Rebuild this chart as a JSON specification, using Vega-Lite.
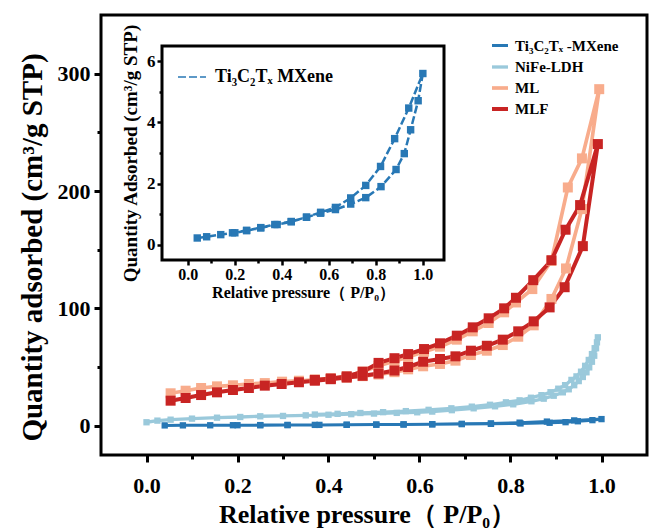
{
  "$schema": "https://vega.github.io/schema/vega-lite/v6.json",
  "width": 546,
  "height": 440,
  "autosize": "none",
  "padding": {"left": 101, "top": 15, "right": 4, "bottom": 75},
  "background": "white",
  "config": {
    "font": "Liberation Serif",
    "view": {"stroke": "black", "strokeWidth": 3},
    "axis": {
      "labelFont": "Liberation Serif",
      "titleFont": "Liberation Serif",
      "labelFontWeight": "bold",
      "titleFontWeight": "bold",
      "labelColor": "black",
      "titleColor": "black",
      "tickColor": "black",
      "domainColor": "black",
      "grid": false
    },
    "legend": {
      "labelFont": "Liberation Serif",
      "labelFontWeight": "bold",
      "labelColor": "black"
    }
  },
  "datasets": {
    "iso": [
      {"s": "Ti₃C₂Tₓ -MXene", "i": 1, "p": 0.04, "q": 0.22},
      {"s": "Ti₃C₂Tₓ -MXene", "i": 2, "p": 0.08, "q": 0.26},
      {"s": "Ti₃C₂Tₓ -MXene", "i": 3, "p": 0.14, "q": 0.33},
      {"s": "Ti₃C₂Tₓ -MXene", "i": 4, "p": 0.19, "q": 0.39},
      {"s": "Ti₃C₂Tₓ -MXene", "i": 5, "p": 0.25, "q": 0.47},
      {"s": "Ti₃C₂Tₓ -MXene", "i": 6, "p": 0.31, "q": 0.56},
      {"s": "Ti₃C₂Tₓ -MXene", "i": 7, "p": 0.37, "q": 0.66},
      {"s": "Ti₃C₂Tₓ -MXene", "i": 8, "p": 0.44, "q": 0.76},
      {"s": "Ti₃C₂Tₓ -MXene", "i": 9, "p": 0.505, "q": 0.9},
      {"s": "Ti₃C₂Tₓ -MXene", "i": 10, "p": 0.565, "q": 1.03},
      {"s": "Ti₃C₂Tₓ -MXene", "i": 11, "p": 0.628, "q": 1.15},
      {"s": "Ti₃C₂Tₓ -MXene", "i": 12, "p": 0.693, "q": 1.33},
      {"s": "Ti₃C₂Tₓ -MXene", "i": 13, "p": 0.757, "q": 1.54},
      {"s": "Ti₃C₂Tₓ -MXene", "i": 14, "p": 0.822, "q": 1.9},
      {"s": "Ti₃C₂Tₓ -MXene", "i": 15, "p": 0.886, "q": 2.46},
      {"s": "Ti₃C₂Tₓ -MXene", "i": 16, "p": 0.921, "q": 2.98},
      {"s": "Ti₃C₂Tₓ -MXene", "i": 17, "p": 0.948, "q": 3.76},
      {"s": "Ti₃C₂Tₓ -MXene", "i": 18, "p": 0.98, "q": 4.71},
      {"s": "Ti₃C₂Tₓ -MXene", "i": 19, "p": 1.0, "q": 5.6},
      {"s": "Ti₃C₂Tₓ -MXene", "i": 20, "p": 0.94, "q": 4.47},
      {"s": "Ti₃C₂Tₓ -MXene", "i": 21, "p": 0.88, "q": 3.47},
      {"s": "Ti₃C₂Tₓ -MXene", "i": 22, "p": 0.82, "q": 2.56},
      {"s": "Ti₃C₂Tₓ -MXene", "i": 23, "p": 0.757, "q": 1.94},
      {"s": "Ti₃C₂Tₓ -MXene", "i": 24, "p": 0.693, "q": 1.53},
      {"s": "Ti₃C₂Tₓ -MXene", "i": 25, "p": 0.628, "q": 1.22},
      {"s": "Ti₃C₂Tₓ -MXene", "i": 26, "p": 0.565, "q": 1.06},
      {"s": "Ti₃C₂Tₓ -MXene", "i": 27, "p": 0.505, "q": 0.9},
      {"s": "Ti₃C₂Tₓ -MXene", "i": 28, "p": 0.44, "q": 0.75},
      {"s": "Ti₃C₂Tₓ -MXene", "i": 29, "p": 0.38, "q": 0.66},
      {"s": "Ti₃C₂Tₓ -MXene", "i": 30, "p": 0.31, "q": 0.55},
      {"s": "Ti₃C₂Tₓ -MXene", "i": 31, "p": 0.25, "q": 0.46},
      {"s": "Ti₃C₂Tₓ -MXene", "i": 32, "p": 0.2, "q": 0.39},

      {"s": "NiFe-LDH", "i": 1, "p": 0.0, "q": 2.9},
      {"s": "NiFe-LDH", "i": 2, "p": 0.024, "q": 4.3},
      {"s": "NiFe-LDH", "i": 3, "p": 0.053, "q": 5.1},
      {"s": "NiFe-LDH", "i": 4, "p": 0.1, "q": 6.0},
      {"s": "NiFe-LDH", "i": 5, "p": 0.155, "q": 6.8},
      {"s": "NiFe-LDH", "i": 6, "p": 0.206, "q": 7.4},
      {"s": "NiFe-LDH", "i": 7, "p": 0.25, "q": 8.0},
      {"s": "NiFe-LDH", "i": 8, "p": 0.3, "q": 8.3},
      {"s": "NiFe-LDH", "i": 9, "p": 0.35, "q": 8.8},
      {"s": "NiFe-LDH", "i": 10, "p": 0.4, "q": 9.3},
      {"s": "NiFe-LDH", "i": 11, "p": 0.45, "q": 9.8},
      {"s": "NiFe-LDH", "i": 12, "p": 0.5, "q": 10.3},
      {"s": "NiFe-LDH", "i": 13, "p": 0.55, "q": 10.9},
      {"s": "NiFe-LDH", "i": 14, "p": 0.595, "q": 11.4},
      {"s": "NiFe-LDH", "i": 15, "p": 0.628, "q": 12.0},
      {"s": "NiFe-LDH", "i": 16, "p": 0.671, "q": 13.2},
      {"s": "NiFe-LDH", "i": 17, "p": 0.719, "q": 14.8},
      {"s": "NiFe-LDH", "i": 18, "p": 0.766, "q": 16.5},
      {"s": "NiFe-LDH", "i": 19, "p": 0.806, "q": 18.2},
      {"s": "NiFe-LDH", "i": 20, "p": 0.846, "q": 20.8},
      {"s": "NiFe-LDH", "i": 21, "p": 0.873, "q": 23.0},
      {"s": "NiFe-LDH", "i": 22, "p": 0.895, "q": 25.5},
      {"s": "NiFe-LDH", "i": 23, "p": 0.915, "q": 28.4},
      {"s": "NiFe-LDH", "i": 24, "p": 0.928, "q": 31.0},
      {"s": "NiFe-LDH", "i": 25, "p": 0.94, "q": 34.5},
      {"s": "NiFe-LDH", "i": 26, "p": 0.95, "q": 38.0},
      {"s": "NiFe-LDH", "i": 27, "p": 0.959, "q": 41.5},
      {"s": "NiFe-LDH", "i": 28, "p": 0.967, "q": 45.5},
      {"s": "NiFe-LDH", "i": 29, "p": 0.973, "q": 49.7},
      {"s": "NiFe-LDH", "i": 30, "p": 0.979, "q": 54.5},
      {"s": "NiFe-LDH", "i": 31, "p": 0.984, "q": 59.6},
      {"s": "NiFe-LDH", "i": 32, "p": 0.988, "q": 66.0},
      {"s": "NiFe-LDH", "i": 33, "p": 0.992, "q": 75.3},
      {"s": "NiFe-LDH", "i": 34, "p": 0.99, "q": 71.0},
      {"s": "NiFe-LDH", "i": 35, "p": 0.985, "q": 66.0},
      {"s": "NiFe-LDH", "i": 36, "p": 0.979, "q": 61.0},
      {"s": "NiFe-LDH", "i": 37, "p": 0.972, "q": 56.0},
      {"s": "NiFe-LDH", "i": 38, "p": 0.964, "q": 51.0},
      {"s": "NiFe-LDH", "i": 39, "p": 0.955, "q": 46.0},
      {"s": "NiFe-LDH", "i": 40, "p": 0.945, "q": 42.0},
      {"s": "NiFe-LDH", "i": 41, "p": 0.934, "q": 39.0},
      {"s": "NiFe-LDH", "i": 42, "p": 0.92, "q": 34.5},
      {"s": "NiFe-LDH", "i": 43, "p": 0.905, "q": 31.5},
      {"s": "NiFe-LDH", "i": 44, "p": 0.888, "q": 28.5},
      {"s": "NiFe-LDH", "i": 45, "p": 0.868, "q": 26.0},
      {"s": "NiFe-LDH", "i": 46, "p": 0.845, "q": 23.8},
      {"s": "NiFe-LDH", "i": 47, "p": 0.82, "q": 21.6},
      {"s": "NiFe-LDH", "i": 48, "p": 0.79, "q": 19.9},
      {"s": "NiFe-LDH", "i": 49, "p": 0.755, "q": 17.8},
      {"s": "NiFe-LDH", "i": 50, "p": 0.715, "q": 16.2},
      {"s": "NiFe-LDH", "i": 51, "p": 0.67, "q": 14.8},
      {"s": "NiFe-LDH", "i": 52, "p": 0.62, "q": 13.5},
      {"s": "NiFe-LDH", "i": 53, "p": 0.57, "q": 12.4},
      {"s": "NiFe-LDH", "i": 54, "p": 0.52, "q": 11.5},
      {"s": "NiFe-LDH", "i": 55, "p": 0.47, "q": 10.8},
      {"s": "NiFe-LDH", "i": 56, "p": 0.42, "q": 10.1},
      {"s": "NiFe-LDH", "i": 57, "p": 0.37, "q": 9.5},

      {"s": "ML", "i": 1, "p": 0.053, "q": 27.6},
      {"s": "ML", "i": 2, "p": 0.086, "q": 29.8},
      {"s": "ML", "i": 3, "p": 0.12, "q": 32.1},
      {"s": "ML", "i": 4, "p": 0.155, "q": 33.5},
      {"s": "ML", "i": 5, "p": 0.19, "q": 34.4},
      {"s": "ML", "i": 6, "p": 0.225, "q": 35.5},
      {"s": "ML", "i": 7, "p": 0.26, "q": 36.3},
      {"s": "ML", "i": 8, "p": 0.298, "q": 37.5},
      {"s": "ML", "i": 9, "p": 0.335, "q": 38.3},
      {"s": "ML", "i": 10, "p": 0.37, "q": 39.1},
      {"s": "ML", "i": 11, "p": 0.405, "q": 40.0},
      {"s": "ML", "i": 12, "p": 0.44, "q": 41.0},
      {"s": "ML", "i": 13, "p": 0.475, "q": 42.2},
      {"s": "ML", "i": 14, "p": 0.51, "q": 43.6},
      {"s": "ML", "i": 15, "p": 0.545, "q": 45.6},
      {"s": "ML", "i": 16, "p": 0.575, "q": 48.0},
      {"s": "ML", "i": 17, "p": 0.608, "q": 50.6},
      {"s": "ML", "i": 18, "p": 0.645, "q": 52.6},
      {"s": "ML", "i": 19, "p": 0.679, "q": 55.4},
      {"s": "ML", "i": 20, "p": 0.713, "q": 60.2},
      {"s": "ML", "i": 21, "p": 0.748, "q": 63.9},
      {"s": "ML", "i": 22, "p": 0.783, "q": 68.7},
      {"s": "ML", "i": 23, "p": 0.817, "q": 75.8},
      {"s": "ML", "i": 24, "p": 0.851, "q": 85.5},
      {"s": "ML", "i": 25, "p": 0.89, "q": 108.0},
      {"s": "ML", "i": 26, "p": 0.922, "q": 134.0},
      {"s": "ML", "i": 27, "p": 0.957, "q": 184.6},
      {"s": "ML", "i": 28, "p": 0.995, "q": 286.8},
      {"s": "ML", "i": 29, "p": 0.957, "q": 227.8},
      {"s": "ML", "i": 30, "p": 0.926, "q": 203.0},
      {"s": "ML", "i": 31, "p": 0.89, "q": 140.5},
      {"s": "ML", "i": 32, "p": 0.848, "q": 116.4},
      {"s": "ML", "i": 33, "p": 0.812, "q": 105.0},
      {"s": "ML", "i": 34, "p": 0.786, "q": 96.6},
      {"s": "ML", "i": 35, "p": 0.752, "q": 87.5},
      {"s": "ML", "i": 36, "p": 0.717, "q": 80.4},
      {"s": "ML", "i": 37, "p": 0.682, "q": 73.3},
      {"s": "ML", "i": 38, "p": 0.645, "q": 67.3},
      {"s": "ML", "i": 39, "p": 0.61, "q": 63.0},
      {"s": "ML", "i": 40, "p": 0.575, "q": 58.5},
      {"s": "ML", "i": 41, "p": 0.545, "q": 55.0},
      {"s": "ML", "i": 42, "p": 0.51, "q": 51.0},
      {"s": "ML", "i": 43, "p": 0.475, "q": 46.0},
      {"s": "ML", "i": 44, "p": 0.44, "q": 42.0},
      {"s": "ML", "i": 45, "p": 0.405, "q": 40.3},
      {"s": "ML", "i": 46, "p": 0.37, "q": 39.3},

      {"s": "MLF", "i": 1, "p": 0.053, "q": 21.3},
      {"s": "MLF", "i": 2, "p": 0.086, "q": 23.6},
      {"s": "MLF", "i": 3, "p": 0.12, "q": 26.1},
      {"s": "MLF", "i": 4, "p": 0.155, "q": 28.4},
      {"s": "MLF", "i": 5, "p": 0.19, "q": 30.4},
      {"s": "MLF", "i": 6, "p": 0.225, "q": 32.1},
      {"s": "MLF", "i": 7, "p": 0.26, "q": 34.1},
      {"s": "MLF", "i": 8, "p": 0.297, "q": 35.5},
      {"s": "MLF", "i": 9, "p": 0.335, "q": 37.0},
      {"s": "MLF", "i": 10, "p": 0.37, "q": 38.3},
      {"s": "MLF", "i": 11, "p": 0.405, "q": 39.6},
      {"s": "MLF", "i": 12, "p": 0.44, "q": 41.0},
      {"s": "MLF", "i": 13, "p": 0.475, "q": 42.5},
      {"s": "MLF", "i": 14, "p": 0.51, "q": 44.5},
      {"s": "MLF", "i": 15, "p": 0.545, "q": 47.0},
      {"s": "MLF", "i": 16, "p": 0.575, "q": 50.0},
      {"s": "MLF", "i": 17, "p": 0.608, "q": 54.5},
      {"s": "MLF", "i": 18, "p": 0.645, "q": 56.8},
      {"s": "MLF", "i": 19, "p": 0.679, "q": 59.1},
      {"s": "MLF", "i": 20, "p": 0.713, "q": 63.9},
      {"s": "MLF", "i": 21, "p": 0.748, "q": 68.1},
      {"s": "MLF", "i": 22, "p": 0.783, "q": 73.3},
      {"s": "MLF", "i": 23, "p": 0.817, "q": 80.4},
      {"s": "MLF", "i": 24, "p": 0.851, "q": 88.9},
      {"s": "MLF", "i": 25, "p": 0.886, "q": 100.8},
      {"s": "MLF", "i": 26, "p": 0.919, "q": 118.0},
      {"s": "MLF", "i": 27, "p": 0.959, "q": 153.0},
      {"s": "MLF", "i": 28, "p": 0.992, "q": 240.0},
      {"s": "MLF", "i": 29, "p": 0.953, "q": 188.0},
      {"s": "MLF", "i": 30, "p": 0.921, "q": 167.0},
      {"s": "MLF", "i": 31, "p": 0.89, "q": 141.0},
      {"s": "MLF", "i": 32, "p": 0.85, "q": 124.0},
      {"s": "MLF", "i": 33, "p": 0.812, "q": 109.0},
      {"s": "MLF", "i": 34, "p": 0.786, "q": 100.0},
      {"s": "MLF", "i": 35, "p": 0.752, "q": 91.5},
      {"s": "MLF", "i": 36, "p": 0.717, "q": 83.8},
      {"s": "MLF", "i": 37, "p": 0.682, "q": 76.7},
      {"s": "MLF", "i": 38, "p": 0.645, "q": 70.2},
      {"s": "MLF", "i": 39, "p": 0.61, "q": 65.3},
      {"s": "MLF", "i": 40, "p": 0.575, "q": 61.0},
      {"s": "MLF", "i": 41, "p": 0.545, "q": 57.5},
      {"s": "MLF", "i": 42, "p": 0.51, "q": 53.5},
      {"s": "MLF", "i": 43, "p": 0.475, "q": 46.0},
      {"s": "MLF", "i": 44, "p": 0.44, "q": 42.0},
      {"s": "MLF", "i": 45, "p": 0.405, "q": 40.2},
      {"s": "MLF", "i": 46, "p": 0.37, "q": 39.0}
    ]
  },
  "layer": [
    {
      "data": {"name": "iso"},
      "layer": [
        {
          "mark": {"type": "line", "strokeJoin": "round"},
          "encoding": {
            "x": {
              "field": "p", "type": "quantitative",
              "scale": {"domain": [-0.1, 1.1], "nice": false, "zero": false},
              "axis": {
                "orient": "bottom",
                "values": [0, 0.2, 0.4, 0.6, 0.8, 1.0],
                "format": ".1f",
                "domain": false,
                "tickSize": 7, "tickWidth": 3,
                "labelFontSize": 22, "labelPadding": 13,
                "title": "Relative pressure（  P/P₀）",
                "titleFontSize": 26, "titlePadding": 5, "titleX": 266
              }
            },
            "y": {
              "field": "q", "type": "quantitative",
              "scale": {"domain": [-25, 350], "nice": false, "zero": false},
              "axis": {
                "orient": "left",
                "values": [0, 100, 200, 300],
                "domain": false,
                "tickSize": 7, "tickWidth": 3,
                "labelFontSize": 22, "labelPadding": 4,
                "title": "Quantity adsorbed (cm³/g STP)",
                "titleFontSize": 29, "titlePadding": 10, "titleY": 232
              }
            },
            "color": {
              "field": "s", "type": "nominal",
              "scale": {
                "domain": ["Ti₃C₂Tₓ -MXene", "NiFe-LDH", "ML", "MLF"],
                "range": ["#2878B5", "#9AC9DB", "#F8AC8C", "#C82423"]
              }
            },
            "strokeWidth": {
              "field": "s", "type": "nominal",
              "scale": {"domain": ["Ti₃C₂Tₓ -MXene", "NiFe-LDH", "ML", "MLF"], "range": [3, 4, 3.5, 3.5]},
              "legend": null
            },
            "order": {"field": "i", "type": "quantitative"}
          }
        },
        {
          "mark": {"type": "point", "shape": "square", "filled": true, "opacity": 1},
          "encoding": {
            "x": {"field": "p", "type": "quantitative", "scale": {"domain": [-0.1, 1.1], "nice": false, "zero": false}, "axis": null},
            "y": {"field": "q", "type": "quantitative", "scale": {"domain": [-25, 350], "nice": false, "zero": false}, "axis": null},
            "color": {
              "field": "s", "type": "nominal",
              "legend": {
                "orient": "none", "legendX": 389, "legendY": 21,
                "title": null,
                "labelFontSize": 15,
                "symbolSize": 256,
                "labelOffset": 5,
                "rowPadding": 3,
                "encode": {
                  "symbols": {
                    "update": {
                      "shape": {"signal": "datum.value === 'MLF' ? 'M-2,-0.2 L-0.8,-0.2 L-0.8,0.2 L-2,0.2 Z M0.8,-0.2 L2,-0.2 L2,0.2 L0.8,0.2 Z M-0.56,-0.56 L0.56,-0.56 L0.56,0.56 L-0.56,0.56 Z' : 'M-2,-0.2 L2,-0.2 L2,0.2 L-2,0.2 Z M-0.45,-0.45 L0.45,-0.45 L0.45,0.45 L-0.45,0.45 Z'"},
                      "fill": {"scale": "color", "field": "value"},
                      "fillOpacity": {"value": 1},
                      "strokeWidth": {"value": 0},
                      "size": {"value": 256}
                    }
                  }
                }
              }
            },
            "size": {
              "condition": {"test": "datum.s === 'ML' || datum.s === 'MLF'", "value": 100},
              "value": 40
            }
          }
        },
        {
          "data": {"values": [{}]},
          "mark": {"type": "point", "opacity": 0},
          "encoding": {
            "x": {
              "datum": 0, "type": "quantitative",
              "scale": {"domain": [-0.1, 1.1], "nice": false, "zero": false},
              "axis": {"orient": "bottom", "values": [0.1, 0.3, 0.5, 0.7, 0.9], "labels": false, "domain": false, "tickSize": 4, "tickWidth": 3, "title": null}
            },
            "y": {
              "datum": 0, "type": "quantitative",
              "scale": {"domain": [-25, 350], "nice": false, "zero": false},
              "axis": {"orient": "left", "values": [50, 150, 250], "labels": false, "domain": false, "tickSize": 4, "tickWidth": 3, "title": null}
            }
          }
        }
      ],
      "resolve": {"axis": {"x": "independent", "y": "independent"}}
    },
    {
      "layer": [
        {
          "data": {"values": [{}]},
          "mark": {"type": "rect", "fill": "white", "stroke": "black", "strokeWidth": 3},
          "encoding": {
            "x": {
              "datum": -0.11, "type": "quantitative",
              "scale": {"domain": [-0.11, 1.09], "range": [61, 343], "nice": false, "zero": false},
              "axis": {
                "orient": "bottom", "offset": -195,
                "values": [0, 0.2, 0.4, 0.6, 0.8, 1.0], "format": ".1f",
                "domain": false, "tickSize": 5, "tickWidth": 2.5,
                "labelFontSize": 16, "labelPadding": 1,
                "title": "Relative pressure（  P/P₀）",
                "titleFontSize": 16, "titlePadding": 2
              }
            },
            "x2": {"datum": 1.09},
            "y": {
              "datum": -0.5, "type": "quantitative",
              "scale": {"domain": [-0.5, 6.5], "range": [245, 31], "nice": false, "zero": false},
              "axis": {
                "orient": "left", "offset": -61,
                "values": [0, 2, 4, 6],
                "domain": false, "tickSize": 5, "tickWidth": 2.5,
                "labelFontSize": 17, "labelPadding": 2,
                "title": "Quantity Adsorbed (cm³/g STP)",
                "titleFontSize": 19, "titlePadding": 6
              }
            },
            "y2": {"datum": 6.5}
          }
        },
        {
          "data": {"name": "iso"},
          "transform": [{"filter": "datum.s === 'Ti₃C₂Tₓ -MXene'"}],
          "mark": {"type": "line", "color": "#2878B5", "strokeWidth": 2.5},
          "encoding": {
            "x": {"field": "p", "type": "quantitative", "scale": {"domain": [-0.11, 1.09], "range": [61, 343], "nice": false, "zero": false}, "axis": null},
            "y": {"field": "q", "type": "quantitative", "scale": {"domain": [-0.5, 6.5], "range": [245, 31], "nice": false, "zero": false}, "axis": null},
            "order": {"field": "i", "type": "quantitative"},
            "strokeDash": {
              "datum": "Ti₃C₂Tₓ MXene",
              "scale": {"range": [[8, 3]]},
              "legend": {
                "orient": "none", "legendX": 76, "legendY": 47,
                "title": null,
                "labelFontSize": 18,
                "symbolSize": 784,
                "labelOffset": 8,
                "encode": {
                  "symbols": {
                    "update": {
                      "shape": {"value": "M-1,-0.1 L-0.45,-0.1 L-0.45,0.1 L-1,0.1 Z M0.45,-0.1 L1,-0.1 L1,0.1 L0.45,0.1 Z M-0.28,-0.28 L0.28,-0.28 L0.28,0.28 L-0.28,0.28 Z"},
                      "fill": {"value": "#2878B5"},
                      "fillOpacity": {"value": 1},
                      "strokeWidth": {"value": 0},
                      "size": {"value": 784}
                    }
                  }
                }
              }
            }
          }
        },
        {
          "data": {"name": "iso"},
          "transform": [{"filter": "datum.s === 'Ti₃C₂Tₓ -MXene'"}],
          "mark": {"type": "point", "shape": "square", "filled": true, "opacity": 1, "color": "#2878B5", "size": 55},
          "encoding": {
            "x": {"field": "p", "type": "quantitative", "scale": {"domain": [-0.11, 1.09], "range": [61, 343], "nice": false, "zero": false}, "axis": null},
            "y": {"field": "q", "type": "quantitative", "scale": {"domain": [-0.5, 6.5], "range": [245, 31], "nice": false, "zero": false}, "axis": null}
          }
        },
        {
          "data": {"values": [{}]},
          "mark": {"type": "point", "opacity": 0},
          "encoding": {
            "x": {
              "datum": 0, "type": "quantitative",
              "scale": {"domain": [-0.11, 1.09], "range": [61, 343], "nice": false, "zero": false},
              "axis": {"orient": "bottom", "offset": -195, "values": [0.1, 0.3, 0.5, 0.7, 0.9], "labels": false, "domain": false, "tickSize": 3, "tickWidth": 2.5, "title": null}
            },
            "y": {
              "datum": 0, "type": "quantitative",
              "scale": {"domain": [-0.5, 6.5], "range": [245, 31], "nice": false, "zero": false},
              "axis": {"orient": "left", "offset": -61, "values": [1, 3, 5], "labels": false, "domain": false, "tickSize": 3, "tickWidth": 2.5, "title": null}
            }
          }
        }
      ],
      "resolve": {"axis": {"x": "independent", "y": "independent"}}
    }
  ],
  "resolve": {"scale": {"x": "independent", "y": "independent"}}
}
